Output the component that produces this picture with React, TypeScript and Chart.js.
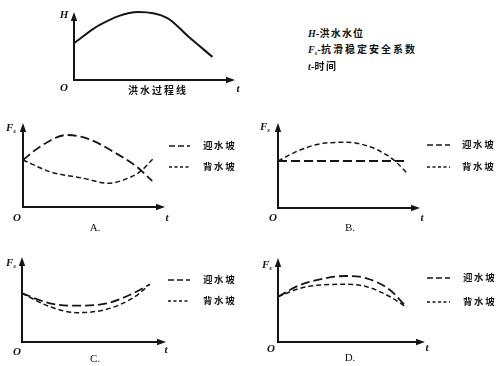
import React, { useEffect, useRef } from 'react';
import { Chart, registerables } from 'chart.js';

Chart.register(...registerables);

// ---- Data (x = time t on 0..10, y = value on 0..10) ----
// Flood hydrograph (top panel): H over t
const floodT = [0, 1.6, 4.0, 5.8, 7.1, 8.6];
const floodH = [5.4, 8.1, 10.0, 9.1, 6.4, 3.4];

// Panel A
const aUpT = [0, 1.2, 3.08, 4.5, 6.36, 8.0, 9.1];
const aUpF = [5.6, 7.18, 8.57, 8.18, 6.58, 4.8, 3.1];
const aDownT = [0, 1.9, 4.25, 6.0, 7.06, 8.24, 9.13];
const aDownF = [5.6, 4.2, 3.42, 2.82, 3.21, 4.2, 5.68];

// Panel B
const bUpT = [0, 8.94];
const bUpF = [5.53, 5.53];
const bDownT = [0, 1.55, 3.19, 4.84, 6.48, 7.65, 8.24, 9.06];
const bDownF = [5.53, 6.82, 7.61, 7.73, 7.21, 6.24, 5.53, 4.15];

// Panel C
const cUpT = [0, 1.94, 3.8, 5.88, 7.73, 8.89];
const cUpF = [5.73, 4.55, 4.27, 4.55, 5.73, 6.79];
const cDownT = [0, 1.94, 3.8, 5.88, 7.73, 8.66];
const cDownF = [5.73, 4.15, 3.45, 3.85, 5.21, 6.44];

// Panel D
const dUpT = [0, 1.5, 2.86, 4.56, 6.03, 7.62, 8.75];
const dUpF = [5.39, 6.79, 7.46, 7.86, 7.58, 6.19, 4.13];
const dDownT = [0, 1.5, 2.86, 4.56, 6.03, 7.62, 8.75];
const dDownF = [5.39, 6.39, 6.79, 6.87, 6.58, 5.39, 4.13];

const seriesNames = ['迎水坡', '背水坡'];
const panelLabels = ['A.', 'B.', 'C.', 'D.'];
const noteLines = ['洪水水位', '抗滑稳定安全系数', '时间'];
const floodTitle = '洪水过程线';

const INK = '#151515';
const LONG_DASH = [9, 4];
const SHORT_DASH = [5, 3];

const pts = (xs: number[], ys: number[]) => xs.map((x, i) => ({ x, y: ys[i] }));

const upSet = (xs: number[], ys: number[]) => ({
  label: seriesNames[0],
  data: pts(xs, ys),
  borderColor: INK,
  borderWidth: 1.8,
  borderDash: LONG_DASH,
  pointRadius: 0,
  cubicInterpolationMode: 'monotone',
  clip: false,
});
const downSet = (xs: number[], ys: number[]) => ({
  label: seriesNames[1],
  data: pts(xs, ys),
  borderColor: INK,
  borderWidth: 1.5,
  borderDash: SHORT_DASH,
  pointRadius: 0,
  cubicInterpolationMode: 'monotone',
  clip: false,
});

const axesPlugin = {
  id: 'axesArrows',
  afterDatasetsDraw(chart: any, _args: any, opts: any) {
    const { ctx } = chart;
    const xs = chart.scales.x;
    const ys = chart.scales.y;
    const x0 = xs.getPixelForValue(0);
    const y0 = ys.getPixelForValue(0);
    const xe = xs.getPixelForValue(xs.max);
    const yt = ys.getPixelForValue(ys.max);
    ctx.save();
    ctx.setLineDash([]);
    ctx.strokeStyle = INK;
    ctx.fillStyle = INK;
    ctx.lineWidth = 2;
    ctx.beginPath();
    ctx.moveTo(x0, y0);
    ctx.lineTo(x0, yt + 5);
    ctx.moveTo(x0 - 1, y0);
    ctx.lineTo(xe - 5, y0);
    ctx.stroke();
    // arrow heads
    ctx.beginPath();
    ctx.moveTo(x0, yt);
    ctx.lineTo(x0 - 3.2, yt + 9);
    ctx.lineTo(x0 + 3.2, yt + 9);
    ctx.closePath();
    ctx.fill();
    ctx.beginPath();
    ctx.moveTo(xe, y0);
    ctx.lineTo(xe - 9, y0 - 3.2);
    ctx.lineTo(xe - 9, y0 + 3.2);
    ctx.closePath();
    ctx.fill();
    // legend samples
    const legend = (opts && opts.legend) || [];
    const offX = (opts && opts.offX) || 0;
    const offY = (opts && opts.offY) || 0;
    legend.forEach((item: any, i: number) => {
      const ds = chart.data.datasets[i];
      ctx.beginPath();
      ctx.setLineDash(item.dash);
      ctx.lineWidth = 1.5;
      ctx.strokeStyle = ds.borderColor;
      ctx.moveTo(item.x1 - offX, item.y - offY);
      ctx.lineTo(item.x2 - offX, item.y - offY);
      ctx.stroke();
    });
    ctx.restore();
  },
};

type Frame = {
  left: number;
  top: number;
  width: number;
  height: number;
  pad: { left: number; top: number; right: number; bottom: number };
};

function MiniChart({ frame, datasets, legend }: { frame: Frame; datasets: any[]; legend?: any[] }) {
  const ref = useRef<HTMLCanvasElement>(null);
  useEffect(() => {
    const chart = new Chart(ref.current as HTMLCanvasElement, {
      type: 'line',
      data: { datasets } as any,
      options: {
        responsive: false,
        animation: false,
        devicePixelRatio: 1,
        events: [],
        layout: { padding: frame.pad },
        scales: {
          x: { type: 'linear', min: 0, max: 10, display: false },
          y: { type: 'linear', min: 0, max: 10, display: false },
        },
        plugins: {
          legend: { display: false },
          tooltip: { enabled: false },
          axesArrows: { legend: legend || [], offX: frame.left, offY: frame.top },
        } as any,
      },
      plugins: [axesPlugin],
    });
    return () => chart.destroy();
  }, []);
  return (
    <canvas
      ref={ref}
      width={frame.width}
      height={frame.height}
      style={{ position: 'absolute', left: frame.left, top: frame.top, width: frame.width, height: frame.height }}
    />
  );
}

const serif = '"Liberation Serif", "DejaVu Serif", serif';
const cjk = '"Noto Sans CJK SC", "Noto Sans CJK JP", sans-serif';

function Txt({ x, y, children, size = 10, center = false, style = {} }: any) {
  return (
    <div
      style={{
        position: 'absolute',
        left: x,
        top: y,
        transform: `translate(${center ? '-50%' : '0'}, -50%)`,
        fontSize: size,
        lineHeight: 1,
        whiteSpace: 'nowrap',
        color: INK,
        ...style,
      }}
    >
      {children}
    </div>
  );
}

const ital = { fontFamily: serif, fontStyle: 'italic', fontWeight: 700 };
const cjkBold = { fontFamily: cjk, fontWeight: 700 };

function Fs({ x, y }: { x: number; y: number }) {
  return (
    <Txt x={x} y={y} size={11} style={ital}>
      F<span style={{ fontSize: 7, verticalAlign: -2 }}>s</span>
    </Txt>
  );
}

function LegendText({ x, y1, y2 }: { x: number; y1: number; y2: number }) {
  return (
    <>
      <Txt x={x} y={y1} size={9.5} style={{ ...cjkBold, letterSpacing: 1.6 }}>{seriesNames[0]}</Txt>
      <Txt x={x} y={y2} size={9.5} style={{ ...cjkBold, letterSpacing: 1.6 }}>{seriesNames[1]}</Txt>
    </>
  );
}

export default function App() {
  const topFrame: Frame = { left: 40, top: 0, width: 210, height: 100, pad: { left: 34, top: 12, right: 15, bottom: 20 } };
  const aFrame: Frame = { left: 0, top: 110, width: 250, height: 120, pad: { left: 23, top: 13, right: 85, bottom: 23 } };
  const bFrame: Frame = { left: 250, top: 110, width: 250, height: 120, pad: { left: 28, top: 13, right: 80, bottom: 22 } };
  const cFrame: Frame = { left: 0, top: 245, width: 250, height: 120, pad: { left: 22, top: 12, right: 84, bottom: 23 } };
  const dFrame: Frame = { left: 250, top: 245, width: 250, height: 120, pad: { left: 28, top: 13, right: 75, bottom: 23 } };

  const floodSet = [
    {
      label: 'H',
      data: pts(floodT, floodH),
      borderColor: INK,
      borderWidth: 2,
      pointRadius: 0,
      cubicInterpolationMode: 'monotone',
      clip: false,
    },
  ];

  const legendAt = (x1: number, x2: number, yLong: number, yShort: number) => [
    { x1, x2, y: yLong, dash: [6, 3] },
    { x1, x2, y: yShort, dash: [3, 2.5] },
  ];

  return (
    <div style={{ position: 'absolute', left: 0, top: 0, width: 500, height: 366, background: '#fff', overflow: 'hidden' }}>
      <MiniChart frame={topFrame} datasets={floodSet} />
      <MiniChart frame={aFrame} datasets={[upSet(aUpT, aUpF), downSet(aDownT, aDownF)]} legend={legendAt(169, 190, 146, 167)} />
      <MiniChart frame={bFrame} datasets={[upSet(bUpT, bUpF), downSet(bDownT, bDownF)]} legend={legendAt(427, 450, 145, 167)} />
      <MiniChart frame={cFrame} datasets={[upSet(cUpT, cUpF), downSet(cDownT, cDownF)]} legend={legendAt(168, 190, 280, 301)} />
      <MiniChart frame={dFrame} datasets={[upSet(dUpT, dUpF), downSet(dDownT, dDownF)]} legend={legendAt(427, 450, 278, 302)} />

      {/* Top panel labels */}
      <Txt x={64} y={14} size={11} center style={ital}>H</Txt>
      <Txt x={64} y={87} size={11} center style={ital}>O</Txt>
      <Txt x={238} y={88} size={11} center style={ital}>t</Txt>
      <Txt x={158} y={90} size={10} center style={{ ...cjkBold, letterSpacing: 2 }}>{floodTitle}</Txt>

      {/* Notes */}
      <Txt x={308} y={33} size={10} style={cjkBold}>
        <span style={ital}>H</span>-<span style={{ letterSpacing: 1.2 }}>{noteLines[0]}</span>
      </Txt>
      <Txt x={308} y={50} size={10} style={cjkBold}>
        <span style={ital}>F<span style={{ fontSize: 6.5, verticalAlign: -2 }}>s</span></span>-<span style={{ letterSpacing: 2 }}>{noteLines[1]}</span>
      </Txt>
      <Txt x={308} y={66} size={10} style={cjkBold}>
        <span style={ital}>t</span>-<span style={{ letterSpacing: 1.5 }}>{noteLines[2]}</span>
      </Txt>

      {/* Panel A */}
      <Fs x={6} y={128} />
      <Txt x={17} y={217} size={11} center style={ital}>O</Txt>
      <Txt x={167} y={217} size={11} center style={ital}>t</Txt>
      <Txt x={95} y={227} size={11} center style={{ fontFamily: serif }}>{panelLabels[0]}</Txt>
      <LegendText x={203} y1={146} y2={167} />

      {/* Panel B */}
      <Fs x={260} y={127} />
      <Txt x={273} y={217} size={11} center style={ital}>O</Txt>
      <Txt x={422} y={217} size={11} center style={ital}>t</Txt>
      <Txt x={350} y={227} size={11} center style={{ fontFamily: serif }}>{panelLabels[1]}</Txt>
      <LegendText x={462} y1={145} y2={167} />

      {/* Panel C */}
      <Fs x={6} y={263} />
      <Txt x={17} y={351} size={11} center style={ital}>O</Txt>
      <Txt x={166} y={349} size={11} center style={ital}>t</Txt>
      <Txt x={95} y={358} size={11} center style={{ fontFamily: serif }}>{panelLabels[2]}</Txt>
      <LegendText x={203} y1={280} y2={301} />

      {/* Panel D */}
      <Fs x={262} y={265} />
      <Txt x={271} y={348} size={11} center style={ital}>O</Txt>
      <Txt x={427} y={347} size={11} center style={ital}>t</Txt>
      <Txt x={350} y={357} size={11} center style={{ fontFamily: serif }}>{panelLabels[3]}</Txt>
      <LegendText x={463} y1={278} y2={302} />
    </div>
  );
}
